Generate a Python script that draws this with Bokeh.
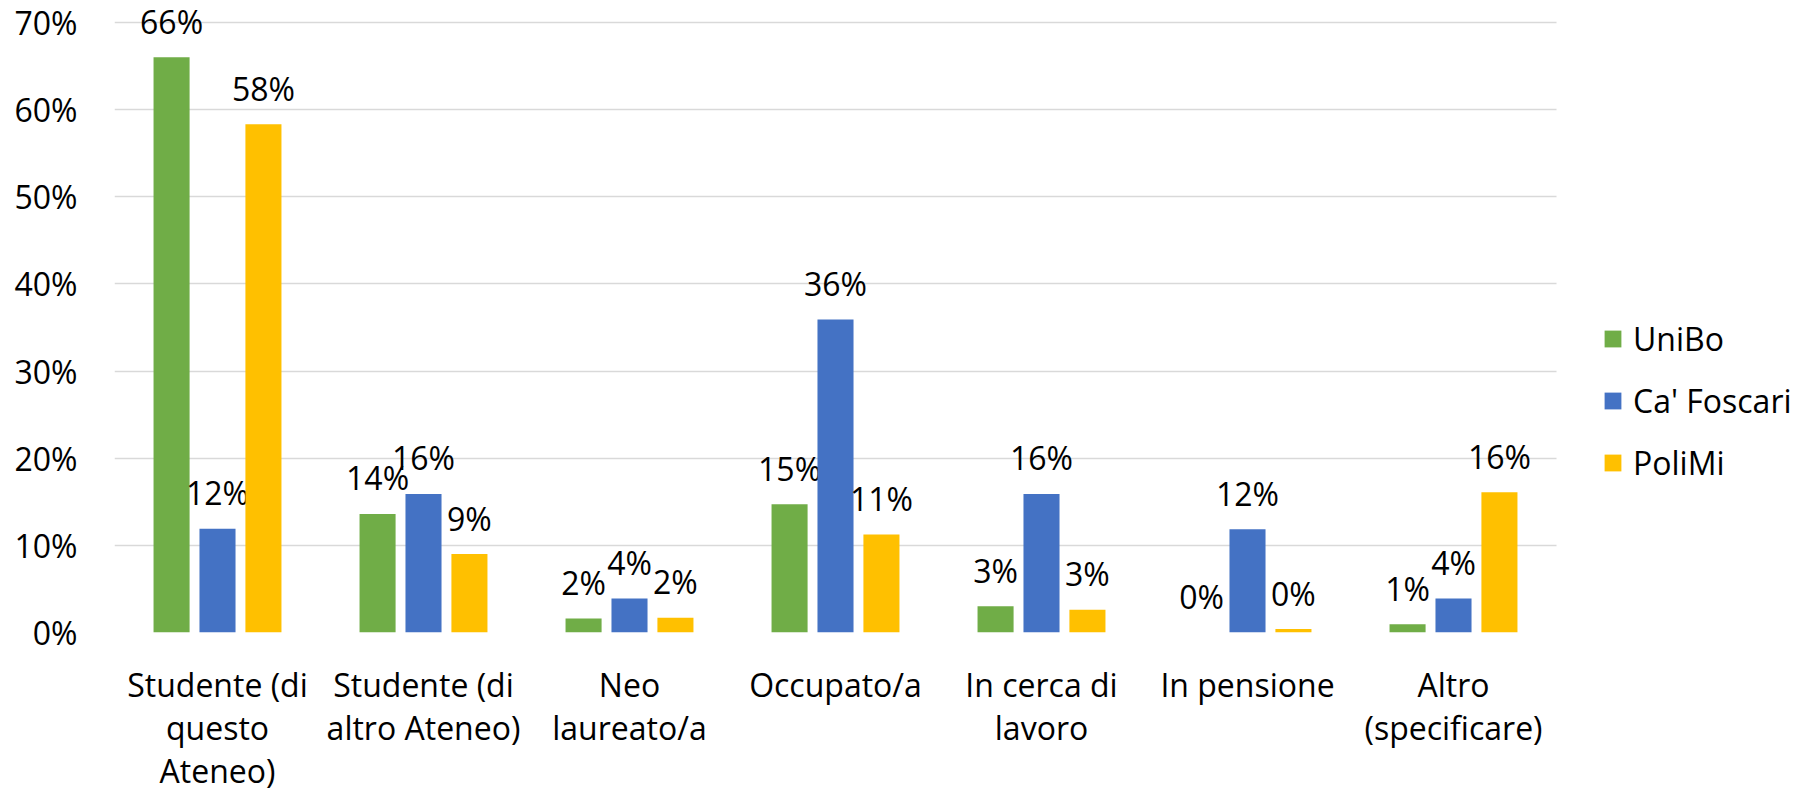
from bokeh.plotting import figure
from bokeh.models import (Range1d, FixedTicker, NumeralTickFormatter,
                          ColumnDataSource, Legend, LegendItem)
from bokeh.transform import dodge
from bokeh.core.properties import value
from bokeh.embed import file_html
from bokeh.resources import INLINE

categories = ["Studente (di\nquesto\nAteneo)", "Studente (di\naltro Ateneo)", "Neo\nlaureato/a",
              "Occupato/a", "In cerca di\nlavoro", "In pensione", "Altro\n(specificare)"]
series = ["UniBo", "Ca' Foscari", "PoliMi"]
unibo = [0.660, 0.136, 0.016, 0.147, 0.030, 0.000, 0.0095]
cafoscari = [0.119, 0.159, 0.039, 0.359, 0.159, 0.1185, 0.039]
polimi = [0.583, 0.090, 0.017, 0.1125, 0.026, 0.004, 0.161]
y_ticks = [0.0, 0.1, 0.2, 0.3, 0.4, 0.5, 0.6, 0.7]
colors = ["#70AD47", "#4472C4", "#FFC000"]

FONT = "Open Sans"
FS = "32px"

def pct(v):
    return f"{v * 100:.0f}%"

x_pos = [i + 0.5 for i in range(len(categories))]
n_cat = len(categories)

src = ColumnDataSource(dict(
    x=x_pos,
    unibo=unibo, cafoscari=cafoscari, polimi=polimi,
    l_unibo=[pct(v) for v in unibo],
    l_cafoscari=[pct(v) for v in cafoscari],
    l_polimi=[pct(v) for v in polimi],
))

p = figure(x_range=Range1d(0, n_cat + 242 / 206), y_range=Range1d(0, 0.7251),
           width=1798, height=794, output_backend="svg", toolbar_location=None,
           min_border_left=114, min_border_right=0, min_border_top=0, min_border_bottom=150)
p.outline_line_color = None
p.background_fill_color = "white"
p.border_fill_color = "white"

offsets = [-0.223, 0.0, 0.223]
keys = ["unibo", "cafoscari", "polimi"]
renderers = []
for off, key, col in zip(offsets, keys, colors):
    r = p.vbar(x=dodge("x", off), top=key, width=0.175, source=src,
               fill_color=col, line_color=None)
    renderers.append(r)
    p.text(x=dodge("x", off), y=key, text="l_" + key, source=src,
           text_align="center", text_baseline="alphabetic", y_offset=-36,
           text_font=value(FONT), text_font_size=FS, text_color="#000000")

p.yaxis.ticker = FixedTicker(ticks=y_ticks)
p.yaxis.formatter = NumeralTickFormatter(format="0%")
p.yaxis.axis_line_color = None
p.yaxis.major_tick_line_color = None
p.yaxis.major_tick_out = 0
p.yaxis.major_tick_in = 0
p.yaxis.minor_tick_line_color = None
p.yaxis.major_label_standoff = 37
p.yaxis.major_label_text_font = FONT
p.yaxis.major_label_text_font_size = FS
p.yaxis.major_label_text_color = "#000000"

p.ygrid.ticker = FixedTicker(ticks=y_ticks)
p.ygrid.grid_line_color = "#D9D9D9"
p.ygrid.grid_line_width = 1.5
p.ygrid.cross_bounds = (0, n_cat)
p.xgrid.grid_line_color = None

p.xaxis.ticker = FixedTicker(ticks=x_pos)
p.xaxis.major_label_overrides = {x: c for x, c in zip(x_pos, categories)}
p.xaxis.axis_line_color = None
p.xaxis.major_tick_line_color = None
p.xaxis.major_tick_out = 0
p.xaxis.major_tick_in = 0
p.xaxis.minor_tick_line_color = None
p.xaxis.major_label_standoff = 30
p.xaxis.major_label_text_font = FONT
p.xaxis.major_label_text_font_size = FS
p.xaxis.major_label_text_color = "#000000"
p.xaxis.major_label_text_line_height = 1.0

legend = Legend(items=[LegendItem(label=s, renderers=[r]) for s, r in zip(series, renderers)],
                location=(1488, 148), orientation="vertical",
                glyph_width=21, glyph_height=21, label_height=21, label_standoff=10, spacing=19,
                padding=0, margin=0, border_line_color=None, background_fill_alpha=0,
                label_text_font=FONT, label_text_font_size=FS, label_text_color="#000000")
p.add_layout(legend, "center")

open("out.html", "w").write(file_html(p, INLINE))
